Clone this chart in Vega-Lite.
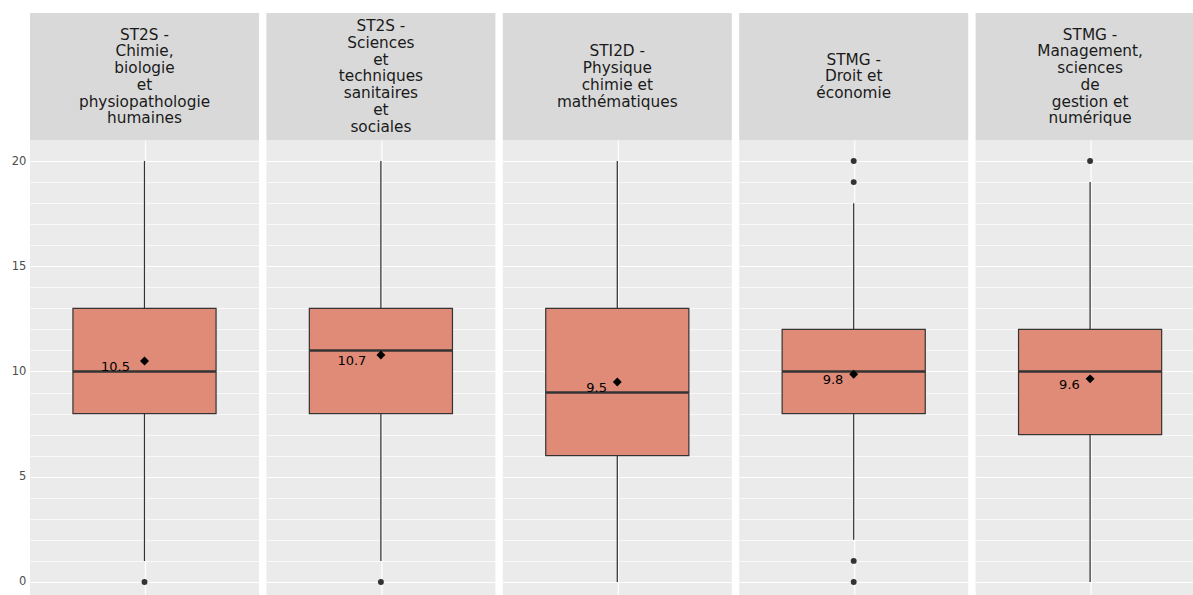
{
  "$schema": "https://vega.github.io/schema/vega-lite/v6.json",
  "padding": {"left": 11, "top": 13, "right": 0, "bottom": 0},
  "background": "white",
  "datasets": {
    "notes": [
      {"type": "stat", "g": "ST2S - Chimie, biologie et physiopathologie humaines", "lab": "ST2S -\nChimie,\nbiologie\net\nphysiopathologie\nhumaines", "lo": 1, "q1": 8, "med": 10, "q3": 13, "hi": 20, "mean": 10.5, "meanlab": "10.5"},
      {"type": "stat", "g": "ST2S - Sciences et techniques sanitaires et sociales", "lab": "ST2S -\nSciences\net\ntechniques\nsanitaires\net\nsociales", "lo": 1, "q1": 8, "med": 11, "q3": 13, "hi": 20, "mean": 10.78, "meanlab": "10.7"},
      {"type": "stat", "g": "STI2D - Physique chimie et mathématiques", "lab": "STI2D -\nPhysique\nchimie et\nmathématiques", "lo": 0, "q1": 6, "med": 9, "q3": 13, "hi": 20, "mean": 9.5, "meanlab": "9.5"},
      {"type": "stat", "g": "STMG - Droit et économie", "lab": "STMG -\nDroit et\néconomie", "lo": 2, "q1": 8, "med": 10, "q3": 12, "hi": 18, "mean": 9.87, "meanlab": "9.8"},
      {"type": "stat", "g": "STMG - Management, sciences de gestion et numérique", "lab": "STMG -\nManagement,\nsciences\nde\ngestion et\nnumérique", "lo": 0, "q1": 7, "med": 10, "q3": 12, "hi": 19, "mean": 9.65, "meanlab": "9.6"},
      {"type": "out", "g": "ST2S - Chimie, biologie et physiopathologie humaines", "y": 0},
      {"type": "out", "g": "ST2S - Sciences et techniques sanitaires et sociales", "y": 0},
      {"type": "out", "g": "STMG - Droit et économie", "y": 0},
      {"type": "out", "g": "STMG - Droit et économie", "y": 1},
      {"type": "out", "g": "STMG - Droit et économie", "y": 19},
      {"type": "out", "g": "STMG - Droit et économie", "y": 20},
      {"type": "out", "g": "STMG - Management, sciences de gestion et numérique", "y": 20}
    ]
  },
  "vconcat": [
    {
      "data": {"name": "notes"},
      "transform": [
        {"filter": "datum.type == 'stat'"},
        {"calculate": "length(split(datum.lab, '\\n'))", "as": "nlines"}
      ],
      "facet": {"column": {"field": "g", "header": {"labels": false, "title": null}}},
      "spec": {
        "width": 229,
        "height": 127,
        "view": {"fill": "#D9D9D9", "stroke": null},
        "mark": {"type": "text", "lineBreak": "\n", "fontSize": 15.3, "lineHeight": 16.7, "color": "#1A1A1A", "baseline": "middle", "align": "center", "font": "DejaVu Sans"},
        "encoding": {
          "y": {"field": "nlines", "type": "quantitative", "scale": {"domain": [-6.605, 8.605], "nice": false, "zero": false}, "axis": null},
          "text": {"field": "lab"}
        }
      }
    },
    {
      "data": {"name": "notes"},
      "facet": {"column": {"field": "g", "header": {"labels": false, "title": null}}},
      "spec": {
        "width": 229,
        "height": 455,
        "view": {"fill": "#EBEBEB", "stroke": null},
        "resolve": {"axis": {"y": "independent"}},
        "layer": [
          {
            "transform": [{"filter": "datum.type == 'stat'"}],
            "mark": {"type": "rule", "color": "#333333", "strokeWidth": 1.25},
            "encoding": {
              "x": {"datum": 0.5, "type": "quantitative", "scale": {"domain": [0, 1], "nice": false, "zero": false},
                "axis": {"values": [0.5], "grid": true, "gridColor": "white", "gridWidth": 1.2, "labels": false, "ticks": false, "domain": false, "title": null}},
              "y": {"field": "lo", "type": "quantitative", "scale": {"domain": [-0.62, 21], "nice": false, "zero": false},
                "axis": {"values": [0, 5, 10, 15, 20],
                  "labelOverlap": false,
                  "grid": true, "gridColor": "white", "gridWidth": 1.2,
                  "ticks": false,
                  "domain": false, "labelColor": "#4D4D4D", "labelFontSize": 11.5, "labelFont": "DejaVu Sans", "labelPadding": 4.2, "title": null}},
              "y2": {"field": "hi"}
            }
          },
          {
            "transform": [{"filter": "datum.type == 'stat'"}],
            "mark": {"type": "bar", "fill": "#E08B77", "stroke": "#333333", "strokeWidth": 1.2},
            "encoding": {
              "x": {"datum": 0.1875, "type": "quantitative"},
              "x2": {"datum": 0.8125},
              "y": {"field": "q1", "type": "quantitative", "axis": null},
              "y2": {"field": "q3"}
            }
          },
          {
            "transform": [{"filter": "datum.type == 'stat'"}],
            "mark": {"type": "rule", "color": "#333333", "strokeWidth": 2.4},
            "encoding": {
              "x": {"datum": 0.1875, "type": "quantitative"},
              "x2": {"datum": 0.8125},
              "y": {"field": "med", "type": "quantitative",
                "axis": {"orient": "left", "values": [0,1,2,3,4,5,6,7,8,9,10,11,12,13,14,15,16,17,18,19,20],
                  "grid": true, "gridColor": "white", "gridWidth": 0.7,
                  "labels": false, "ticks": false, "domain": false, "title": null}}
            }
          },
          {
            "transform": [{"filter": "datum.type == 'out'"}],
            "mark": {"type": "point", "shape": "circle", "filled": true, "color": "#333333", "size": 35, "opacity": 1},
            "encoding": {
              "x": {"datum": 0.5, "type": "quantitative"},
              "y": {"field": "y", "type": "quantitative", "axis": null}
            }
          },
          {
            "transform": [{"filter": "datum.type == 'stat'"}],
            "mark": {"type": "point", "shape": "diamond", "filled": true, "color": "#000000", "size": 80, "opacity": 1},
            "encoding": {
              "x": {"datum": 0.5, "type": "quantitative"},
              "y": {"field": "mean", "type": "quantitative", "axis": null}
            }
          },
          {
            "transform": [{"filter": "datum.type == 'stat' && length(datum.meanlab) == 4"}],
            "mark": {"type": "text", "align": "right", "baseline": "alphabetic", "dx": -14.5, "dy": 10, "fontSize": 13, "font": "DejaVu Sans", "color": "#000000"},
            "encoding": {
              "x": {"datum": 0.5, "type": "quantitative"},
              "y": {"field": "mean", "type": "quantitative", "axis": null},
              "text": {"field": "meanlab"}
            }
          },
          {
            "transform": [{"filter": "datum.type == 'stat' && length(datum.meanlab) == 3"}],
            "mark": {"type": "text", "align": "right", "baseline": "alphabetic", "dx": -10.3, "dy": 10, "fontSize": 13, "font": "DejaVu Sans", "color": "#000000"},
            "encoding": {
              "x": {"datum": 0.5, "type": "quantitative"},
              "y": {"field": "mean", "type": "quantitative", "axis": null},
              "text": {"field": "meanlab"}
            }
          }
        ]
      }
    }
  ],
  "config": {
    "font": "DejaVu Sans",
    "view": {"stroke": null},
    "concat": {"spacing": 0},
    "facet": {"spacing": 7.4}
  }
}
